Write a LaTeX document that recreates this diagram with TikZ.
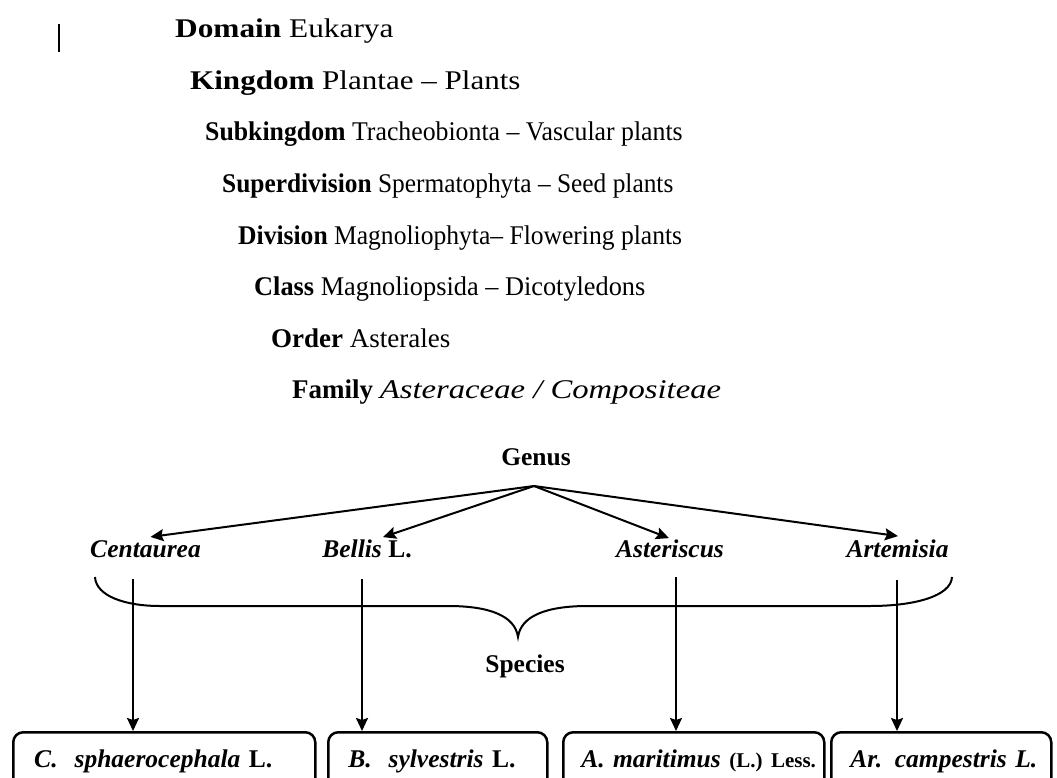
\documentclass[tikz,border=0pt]{standalone}
\usepackage{fontspec}
\usepackage{graphicx}
\setmainfont{Liberation Serif}
\usetikzlibrary{arrows.meta}
\begin{document}
\begin{tikzpicture}[x=1pt,y=-1pt,
  toptext/.style={anchor=base west,inner sep=0pt,font=\fontsize{27}{32}\selectfont},
  lab/.style={anchor=base,inner sep=0pt,font=\fontsize{25.5}{30}\selectfont\bfseries},
  arr/.style={line width=2pt,-{Stealth[length=13pt,width=12pt,inset=2pt]}},
  spbox/.style={draw,line width=2.5pt,rounded corners=10pt,anchor=north west,
    inner ysep=0pt,text height=35pt,text depth=35pt,align=left,
    font=\fontsize{25.5}{30}\selectfont\bfseries}
]
\useasboundingbox (0,0) rectangle (1057,778);
\clip (0,0) rectangle (1057,778);
\draw[line width=2.8pt] (59,24) -- (59,52);

\node[toptext] (domain) at (175,38) {\scalebox{1.16}[1]{\textbf{Domain} Eukarya}};
\node[toptext] (kingdom) at (190,89.5) {\scalebox{1.15}[1]{\textbf{Kingdom} Plantae -- Plants}};
\node[toptext] (subk) at (205,141) {\scalebox{0.955}[1]{\textbf{Subkingdom} Tracheobionta -- Vascular plants}};
\node[toptext] (superd) at (222,192.5) {\scalebox{0.94}[1]{\textbf{Superdivision} Spermatophyta -- Seed plants}};
\node[toptext] (division) at (238,244) {\scalebox{0.947}[1]{\textbf{Division} Magnoliophyta-- Flowering plants}};
\node[toptext] (class) at (254,295.5) {\scalebox{0.975}[1]{\textbf{Class} Magnoliopsida -- Dicotyledons}};
\node[toptext] (order) at (271,347) {\textbf{Order} Asterales};
\node[toptext] (family) at (292,398.5) {\textbf{Family} \scalebox{1.21}[1]{\textit{Asteraceae / Compositeae}}};

\node[lab] (genus) at (536,465) {Genus};
\coordinate (apex) at (534,486);
\node[lab] (cent) at (145.5,557) {\textit{Centaurea}};
\node[lab] (bell) at (367,557) {\textit{Bellis} L.};
\node[lab] (aste) at (670,557) {\textit{Asteriscus}};
\node[lab] (arte) at (897.5,557) {\textit{Artemisia}};

\draw[arr] (apex) -- ([xshift=5pt,yshift=3pt]cent.north);
\draw[arr] (apex) -- ([xshift=16pt,yshift=2pt]bell.north);
\draw[arr] (apex) -- ([xshift=-1pt,yshift=1pt]aste.north);
\draw[arr] (apex) -- ([xshift=0.5pt,yshift=3pt]arte.north);

\draw[line width=2pt] (95,577) .. controls (96,596) and (125,606) .. (160,606)
  -- (448,606) .. controls (490,606) and (515,616) .. (518,637)
  .. controls (521,616) and (546,606) .. (588,606)
  -- (870,606) .. controls (915,606) and (951,596) .. (952,577);

\node[lab] (species) at (525,672) {Species};

\node[spbox,inner xsep=21pt,text width=260pt] (b1) at (12,731) {\mbox{\textit{C.\ \ sphaerocephala} L.}};
\node[spbox,inner xsep=20pt,text width=179pt] (b2) at (327,731) {\mbox{\textit{B.\ \ sylvestris} L.}};
\node[spbox,inner xsep=18pt,text width=225pt] (b3) at (562,731) {\mbox{\textit{A. maritimus} {\fontsize{21}{25}\selectfont(L.) Less.}}};
\node[spbox,inner xsep=19pt,text width=182pt] (b4) at (830,731) {\mbox{\textit{Ar. campestris L.}}};

\coordinate (v1) at (133,579);
\coordinate (v2) at (362,579);
\coordinate (v3) at (676,577);
\coordinate (v4) at (897,580);
\draw[arr] (v1) -- (v1 |- b1.north);
\draw[arr] (v2) -- (v2 |- b2.north);
\draw[arr] (v3) -- (v3 |- b3.north);
\draw[arr] (v4) -- (v4 |- b4.north);
\end{tikzpicture}
\end{document}
